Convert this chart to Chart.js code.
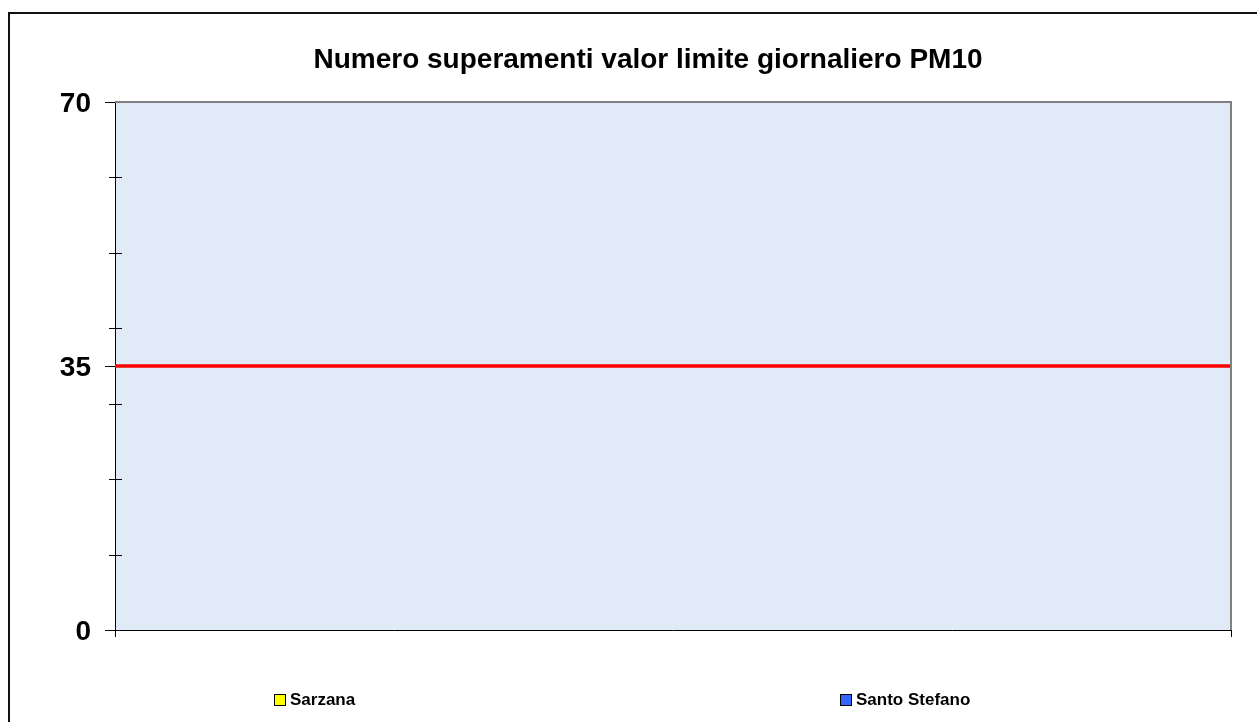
<!DOCTYPE html>
<html>
<head>
<meta charset="utf-8">
<script src="https://cdn.jsdelivr.net/npm/chart.js@4"></script>
<style>
  html, body { margin: 0; padding: 0; background: #ffffff; }
  #wrap { width: 1257px; height: 722px; position: relative; }
</style>
</head>
<body>
<div id="wrap"><canvas id="c" width="1257" height="722"></canvas></div>
<script>
// Exceedances of the PM10 daily limit value, per station
const categories = [''];
const sarzana = [0];
const santoStefano = [0];
const seriesNames = ['Sarzana', 'Santo Stefano'];
const seriesColors = ['#ffff00', '#3366ff'];
const limitValue = 35;
const yMin = 0;
const yMax = 70;
const majorTicks = [0, 35, 70];
const minorTicks = [10, 20, 30, 40, 50, 60];
const chartTitle = 'Numero superamenti valor limite giornaliero PM10';

const FONT = "'Liberation Sans', Arial, Helvetica, sans-serif";

// Frame, title, plot background, limit line, minor ticks and legend
const decorations = {
  id: 'decorations',
  beforeDraw(chart) {
    const { ctx, chartArea: a } = chart;
    ctx.save();
    ctx.fillStyle = '#e0ebf7';
    ctx.fillRect(a.left, a.top, a.right - a.left, a.bottom - a.top);
    // outer frame (only the left and top edges fall inside the canvas)
    ctx.strokeStyle = '#111111';
    ctx.lineWidth = 2;
    ctx.beginPath();
    ctx.moveTo(9, chart.height + 5);
    ctx.lineTo(9, 13);
    ctx.lineTo(chart.width + 5, 13);
    ctx.stroke();
    // title
    ctx.fillStyle = '#000000';
    ctx.font = 'bold 28px ' + FONT;
    ctx.textAlign = 'center';
    ctx.textBaseline = 'middle';
    ctx.fillText(chartTitle, 648, 60);
    ctx.restore();
  },
  afterDatasetsDraw(chart) {
    const { ctx, chartArea: a, scales } = chart;
    const y = scales.y.getPixelForValue(limitValue);
    ctx.save();
    ctx.strokeStyle = '#ff0000';
    ctx.lineWidth = 3.5;
    ctx.beginPath();
    ctx.moveTo(a.left, y);
    ctx.lineTo(a.right, y);
    ctx.stroke();
    ctx.restore();
  },
  afterDraw(chart) {
    const { ctx, chartArea: a, scales } = chart;
    ctx.save();
    // plot area border: grey on top and right
    ctx.strokeStyle = '#808080';
    ctx.lineWidth = 2;
    ctx.beginPath();
    ctx.moveTo(a.left, a.top);
    ctx.lineTo(a.right, a.top);
    ctx.lineTo(a.right, a.bottom);
    ctx.stroke();
    // minor ticks crossing the value axis
    ctx.strokeStyle = '#000000';
    ctx.lineWidth = 1;
    minorTicks.forEach(v => {
      const y = Math.round(scales.y.getPixelForValue(v)) + 0.5;
      ctx.beginPath();
      ctx.moveTo(a.left - 6, y);
      ctx.lineTo(a.left + 7, y);
      ctx.stroke();
    });
    // legend
    const legendX = [274, 840];
    const legendY = 699;
    ctx.font = 'bold 17px ' + FONT;
    ctx.textBaseline = 'middle';
    ctx.textAlign = 'left';
    seriesNames.forEach((name, i) => {
      const x = legendX[i];
      ctx.fillStyle = seriesColors[i];
      ctx.fillRect(x, legendY - 5, 11, 11);
      ctx.strokeStyle = '#000000';
      ctx.lineWidth = 1;
      ctx.strokeRect(x + 0.5, legendY - 4.5, 11, 11);
      ctx.fillStyle = '#000000';
      ctx.fillText(name, x + 16, legendY + 1);
    });
    ctx.restore();
  }
};

new Chart(document.getElementById('c'), {
  type: 'bar',
  data: {
    labels: categories,
    datasets: [
      { label: seriesNames[0], data: sarzana, backgroundColor: seriesColors[0], borderColor: '#000000', borderWidth: 0 },
      { label: seriesNames[1], data: santoStefano, backgroundColor: seriesColors[1], borderColor: '#000000', borderWidth: 0 }
    ]
  },
  options: {
    responsive: false,
    animation: false,
    devicePixelRatio: 1,
    layout: { padding: { left: 20, right: 26, top: 102, bottom: 82 } },
    plugins: {
      legend: { display: false },
      tooltip: { enabled: false },
      title: { display: false }
    },
    scales: {
      x: {
        type: 'category',
        offset: true,
        grid: { offset: true, drawOnChartArea: false, drawTicks: true, tickLength: 7, color: '#000000', lineWidth: 1 },
        border: { color: '#000000', width: 1 },
        ticks: { display: false },
        afterFit(s) { s.height = 10; }
      },
      y: {
        min: yMin,
        max: yMax,
        afterBuildTicks(s) { s.ticks = majorTicks.map(v => ({ value: v })); },
        grid: { drawOnChartArea: false, tickLength: 10, color: '#000000', lineWidth: 1 },
        border: { color: '#000000', width: 1 },
        ticks: { color: '#000000', padding: 14, labelOffset: 2, font: { family: FONT, size: 28, weight: 'bold' } },
        afterFit(s) { s.width = 95; }
      }
    }
  },
  plugins: [decorations]
});
</script>
</body>
</html>
